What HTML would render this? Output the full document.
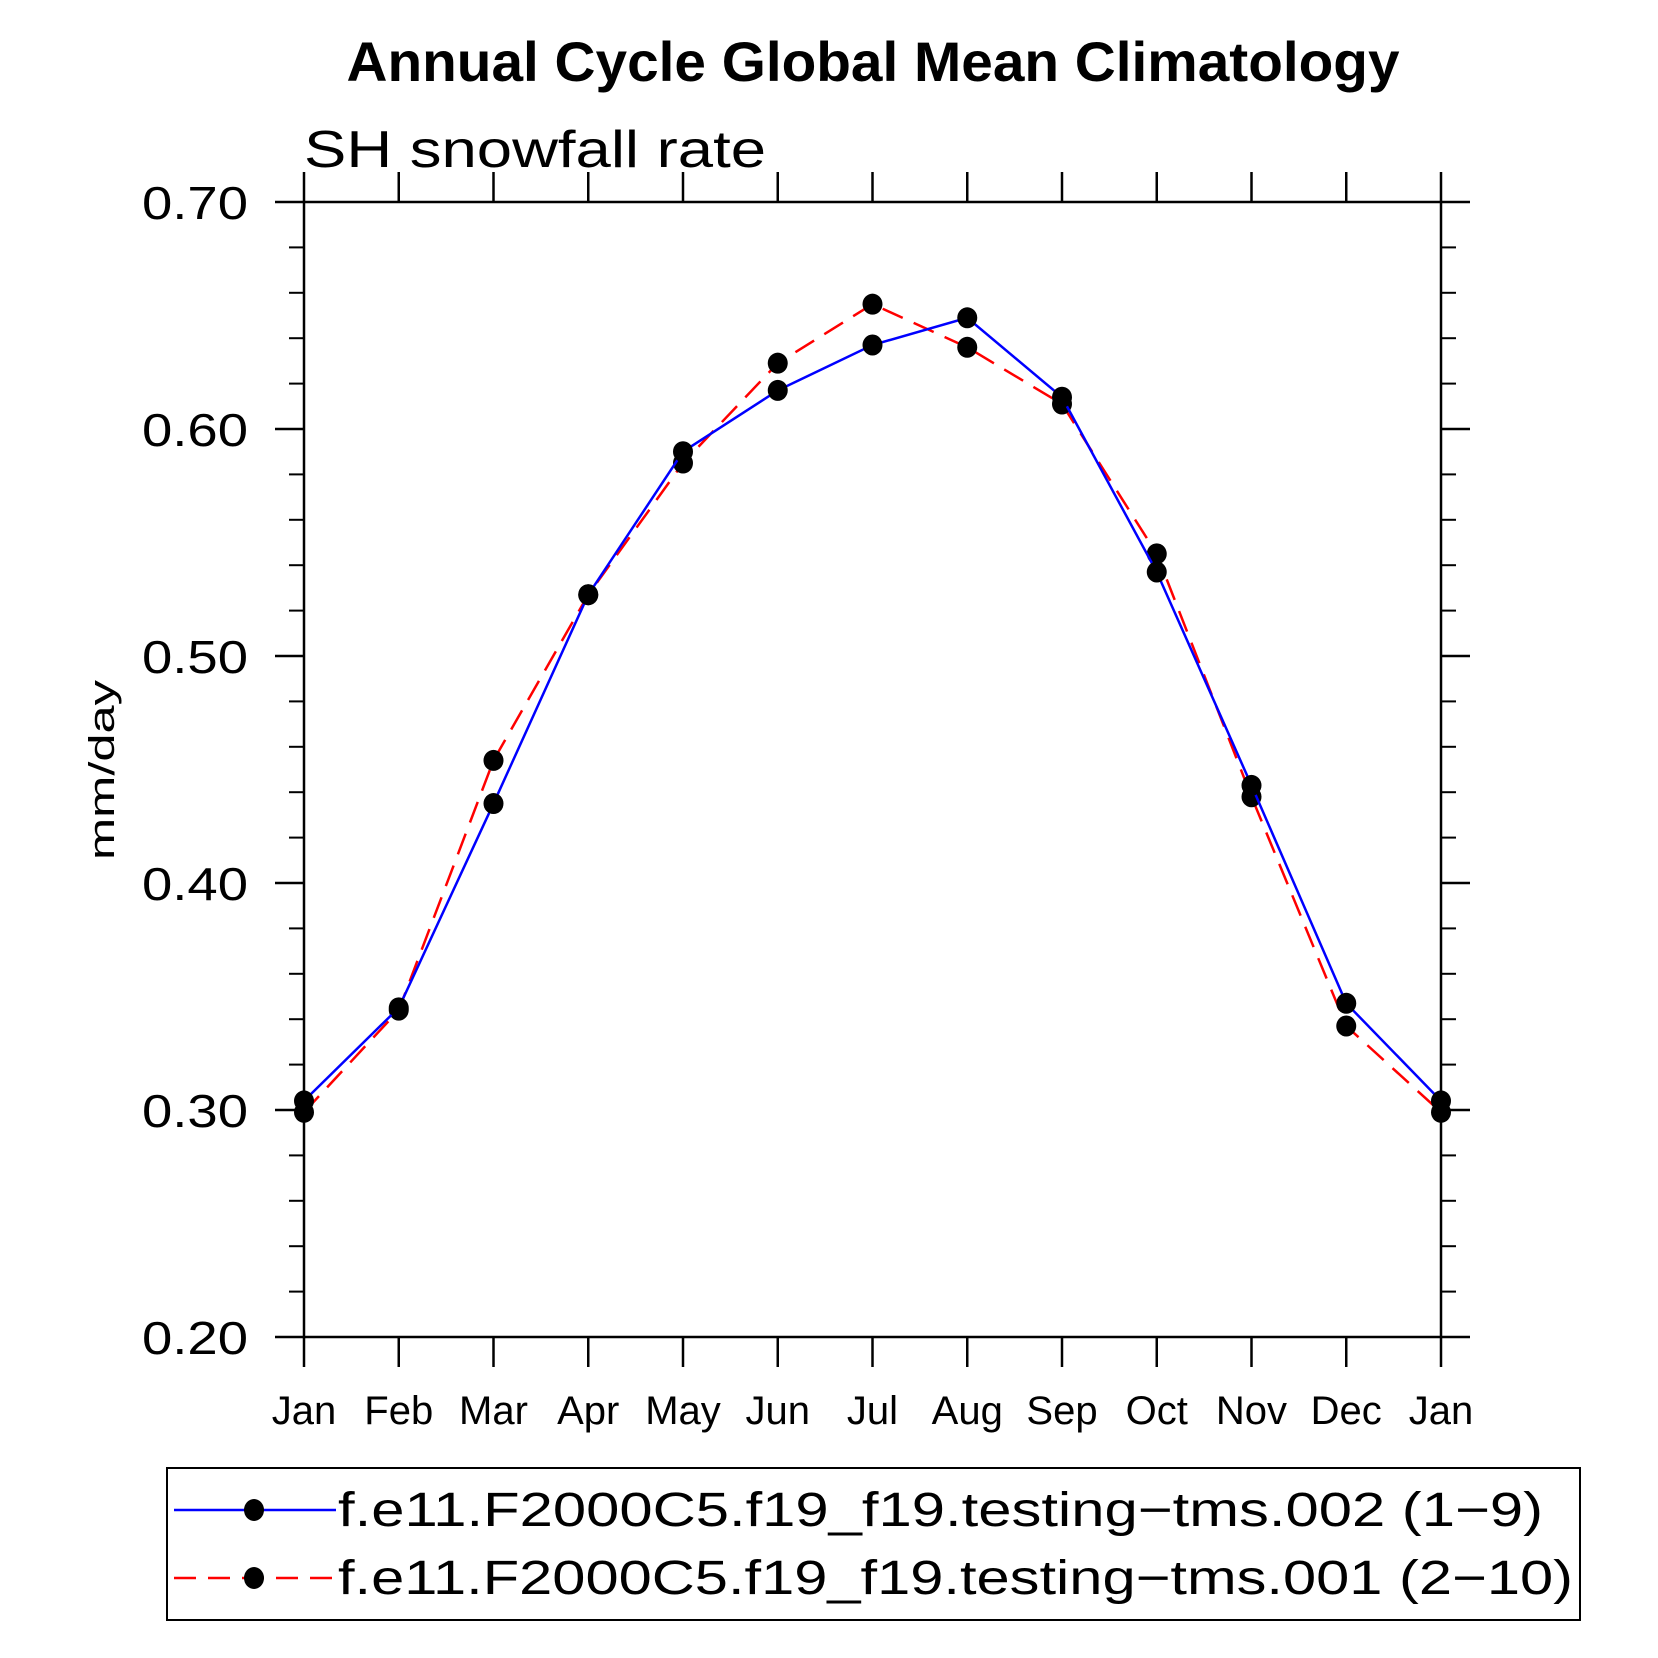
<!DOCTYPE html>
<html><head><meta charset="utf-8"><style>
html,body{margin:0;padding:0;background:#fff;}
svg{display:block;font-family:"Liberation Sans",sans-serif;}
</style></head><body>
<svg id="chart" width="1658" height="1658" viewBox="0 0 1658 1658" xmlns="http://www.w3.org/2000/svg">
<text x="873" y="81" text-anchor="middle" font-size="56" font-weight="bold" textLength="1053" lengthAdjust="spacingAndGlyphs">Annual Cycle Global Mean Climatology</text>
<text x="304" y="167" font-size="52" textLength="462" lengthAdjust="spacingAndGlyphs">SH snowfall rate</text>
<text transform="translate(114,770) rotate(-90)" text-anchor="middle" font-size="36" textLength="180" lengthAdjust="spacingAndGlyphs">mm/day</text>
<g id="axes"></g>
<g id="series"></g>
<rect x="167" y="1468" width="1413" height="152" fill="none" stroke="#000" stroke-width="2"/>
<g>
<line x1="174" y1="1510" x2="336" y2="1510" stroke="#0000ff" stroke-width="2.5"/>
<ellipse cx="254" cy="1510" rx="10" ry="11" fill="#000"/>
<text x="338" y="1526" font-size="48" textLength="1205" lengthAdjust="spacingAndGlyphs">f.e11.F2000C5.f19_f19.testing−tms.002 (1−9)</text>
</g>
<g>
<line x1="174" y1="1578" x2="336" y2="1578" stroke="#ff0000" stroke-width="2.5" stroke-dasharray="22,12"/>
<ellipse cx="254" cy="1578" rx="10" ry="11" fill="#000"/>
<text x="338" y="1594" font-size="48" textLength="1235" lengthAdjust="spacingAndGlyphs">f.e11.F2000C5.f19_f19.testing−tms.001 (2−10)</text>
</g>
</svg>
<script>
const months = ["Jan","Feb","Mar","Apr","May","Jun","Jul","Aug","Sep","Oct","Nov","Dec","Jan"];
const seriesBlue = [0.304,0.345,0.435,0.527,0.590,0.617,0.637,0.649,0.614,0.537,0.443,0.347,0.304];
const seriesRed = [0.299,0.344,0.454,0.527,0.585,0.629,0.655,0.636,0.611,0.545,0.438,0.337,0.299];
const yTicks = [0.20,0.30,0.40,0.50,0.60,0.70];
const yTickLabels = ["0.20","0.30","0.40","0.50","0.60","0.70"];

const NS = "http://www.w3.org/2000/svg";
const L = 304, R = 1441, T = 202, B = 1337;
const yMin = 0.2, yMax = 0.7;
function xs(i){ return L + (R - L) * i / (months.length - 1); }
function ys(v){ return B - (B - T) * (v - yMin) / (yMax - yMin); }
function mk(tag, attrs, parent){ const e = document.createElementNS(NS, tag); for (const k in attrs) e.setAttribute(k, attrs[k]); parent.appendChild(e); return e; }

const axes = document.getElementById("axes");
const frame = mk("rect", {x:L, y:T, width:R-L, height:B-T, fill:"none", stroke:"#000", "stroke-width":2.5}, axes);



months.forEach((m, i) => {
  const x = xs(i);
  const tb = mk("line", {x1:x, y1:B, x2:x, y2:B+30, stroke:"#000", "stroke-width":2.5}, axes);
  
  
  const tt = mk("line", {x1:x, y1:T, x2:x, y2:T-30, stroke:"#000", "stroke-width":2.5}, axes);
  
  
  const lb = mk("text", {x:x, y:1424, "text-anchor":"middle", "font-size":40}, axes);
  lb.textContent = m;
  
  
});

for (let k = 0; k <= 25; k++) {
  const v = yMin + k * 0.02;
  const y = ys(v);
  const major = (k % 5 === 0);
  const len = major ? 29 : 15;
  const tl = mk("line", {x1:L-len, y1:y, x2:L, y2:y, stroke:"#000", "stroke-width":major?2.5:2}, axes);
  
  
  const tr = mk("line", {x1:R, y1:y, x2:R+len, y2:y, stroke:"#000", "stroke-width":major?2.5:2}, axes);
  
  
}
yTicks.forEach((v, i) => {
  const t = mk("text", {x:248, y:ys(v)+17, "text-anchor":"end", "font-size":46, textLength:106, lengthAdjust:"spacingAndGlyphs"}, axes);
  t.textContent = yTickLabels[i];
  
  
});

const sg = document.getElementById("series");
function drawSeries(vals, color, dash, name){
  const pts = vals.map((v, i) => xs(i) + "," + ys(v)).join(" ");
  const pl = mk("polyline", {points:pts, fill:"none", stroke:color, "stroke-width":2.5}, sg);
  if (dash) pl.setAttribute("stroke-dasharray", dash);
  
  
  vals.forEach((v, i) => {
    const c = mk("ellipse", {cx:xs(i), cy:ys(v), rx:10, ry:10.5, fill:"#000"}, sg);
    
    
  });
}
drawSeries(seriesRed, "#ff0000", "22,12", "series-001");
drawSeries(seriesBlue, "#0000ff", null, "series-002");
</script>
</body></html>
